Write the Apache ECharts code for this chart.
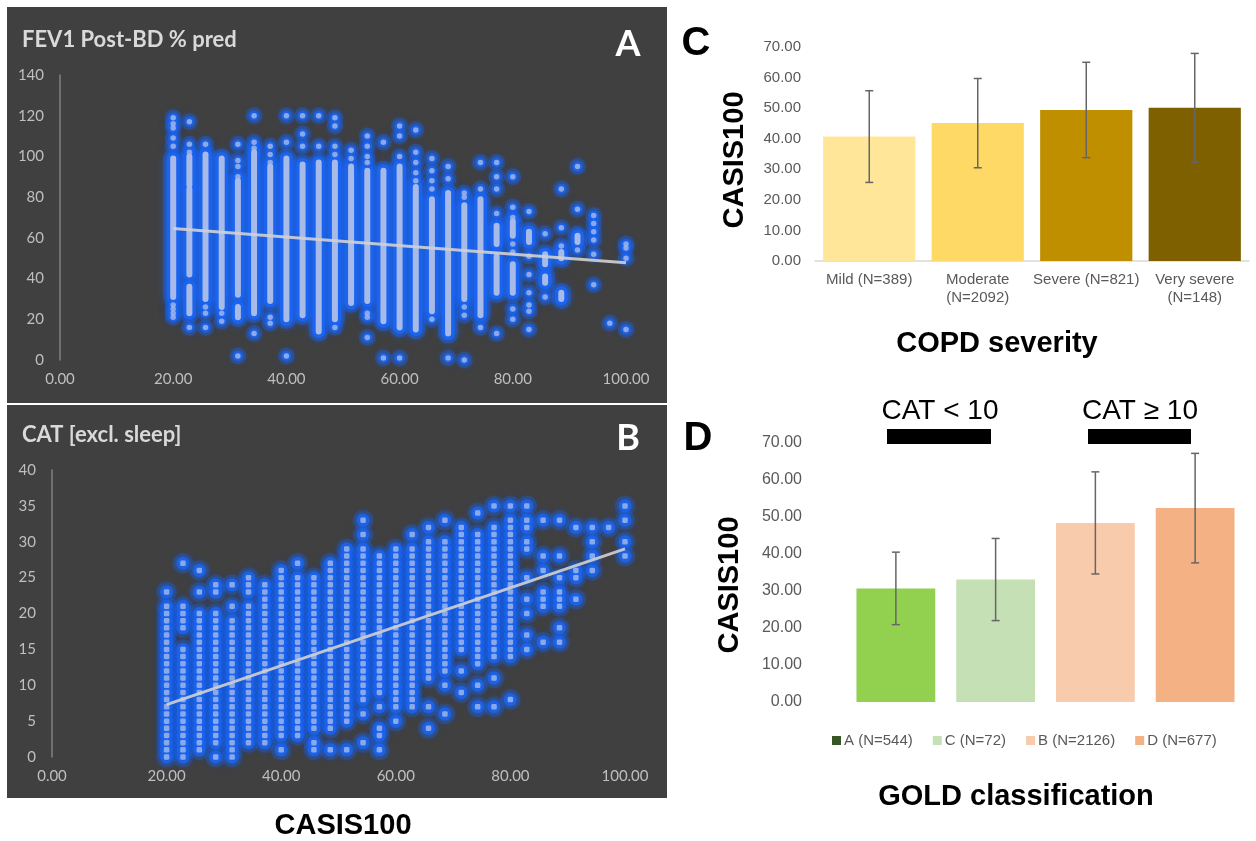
<!DOCTYPE html>
<html><head><meta charset="utf-8">
<script src="https://cdn.jsdelivr.net/npm/echarts@6/dist/echarts.min.js"></script>
<style>html,body{margin:0;padding:0;background:#fff}#c{width:1256px;height:841px}</style>
</head><body><div id="c"></div>
<script>
// ---------- DATA ----------
// CASIS100 score columns (x) shared by panels A and B
const casisX = [20, 22.86, 25.71, 28.57, 31.43, 34.29, 37.14, 40, 42.86, 45.71, 48.57, 51.43, 54.29, 57.14, 60,
  62.86, 65.71, 68.57, 71.43, 74.29, 77.14, 80, 82.86, 85.71, 88.57, 91.43, 94.29, 97.14, 100];

// Panel A: FEV1 post-BD % pred. Dense runs of overlapping points [low, high] per column
const fevRuns = [
  [[31,99]], [[86,100],[42,84],[23,36]], [[30,101]], [[26,99]], [[32,88],[21,26]], [[23,102]], [[29,95]],
  [[20,99]], [[22,96]], [[14,97]], [[20,97]], [[28,95]], [[29,93]], [[19,93]], [[16,95]],
  [[15,85]], [[24,79]], [[13,82]], [[30,76]], [[22,79]], [[57,66],[33,51]], [[61,68],[33,47]], [[58,63]],
  [[47,52],[38,41]], [[50,53],[30,33]], [[58,61]], [], [], []
];
// Panel A: isolated points per column
const fevPts = [
  [119,116,114,109,105,27,25,23,21], [117,106,102,16], [106,26,23,16], [23,19], [106,98,95,90,2],
  [120,107,104,13], [105,101,97,21,18], [120,107,2], [120,111,105], [120,105], [119,115,105,101,16],
  [103,99], [110,105,100,97,23,21,11], [107,1], [115,110,100,1], [113,102,97,92,88], [99,93,88,84,20],
  [95,89,1], [82,80,26,22,0], [97,84,16], [97,90,84,72,13], [90,75,70,57,53,25,20], [73,51,42,33,27,24,15],
  [62,31], [84,65,56], [95,74,54], [71,67,63,59,52,37], [18], [57,55,50,15]
];
const trendA = [[20, 64.6], [100, 47.8]];

// Panel B: CAT (excl. sleep) integer scores seen in each column ("a-b" = every integer a..b is drawn)
const catVals = [
  "0-21,23", "0-15,18-21,27", "1-20,23,26", "0,2-20,23,24", "0-19,21,24", "2-21,23-25", "2-24",
  "1,3-26", "3-25,27", "1,2,4-25", "1,4-27", "1,5-29", "2,6,8-29,31,33", "1,3,4,7,9-28", "5,7-29",
  "7-29,31", "4,7,11-30,32", "6,10,12-30,33", "9,12,15-32", "7,10,13-31,34", "7,11,14-32,35", "8,14-33,35",
  "15,17,20,22,25,29,30,32,33,35", "16,21,22,23,26,28,33", "16,18,21,22,23,25,28,33", "22,25,26,32",
  "26,28,30,32", "32", "28,30,33,35"
];
const trendB = [[20, 7.3], [100, 29.0]];

// Panel C: COPD severity
const sevCats = ['Mild (N=389)', 'Moderate\n(N=2092)', 'Severe (N=821)', 'Very severe\n(N=148)'];
const sevMean = [40.7, 45.1, 49.4, 50.1];
const sevSD = [15.0, 14.6, 15.6, 17.8];
const sevColors = ['#FFE699', '#FFD966', '#BF8F00', '#7F6000'];

// Panel D: GOLD classification
const goldCats = ['A', 'C', 'B', 'D'];
const goldLabels = ['A (N=544)', 'C (N=72)', 'B (N=2126)', 'D (N=677)'];
const goldMean = [30.7, 33.1, 48.4, 52.4];
const goldSD = [9.8, 11.1, 13.8, 14.8];
const goldColors = ['#92D050', '#C5E0B4', '#F8CBAD', '#F4B183'];
const goldLegendColors = ['#375623', '#C5E0B4', '#F8CBAD', '#F4B183'];

// ---------- BUILD ----------
const runData = [];
fevRuns.forEach((runs, i) => runs.forEach(r => runData.push([casisX[i], r[0], r[1]])));
const fevPtData = [];
fevPts.forEach((pts, i) => pts.forEach(v => fevPtData.push([casisX[i], v])));
const catData = [];
catVals.forEach((s, i) => s.split(',').forEach(tok => {
  const p = tok.split('-').map(Number);
  if (p.length === 1) catData.push([casisX[i], p[0]]);
  else for (let v = p[0]; v <= p[1]; v++) catData.push([casisX[i], v]);
}));

const GLOW = '#1a64f0';
const HALO = 'rgba(26,100,240,0.38)';
const CORE = '#a8bae8';
function runRender(layer) {
  return function (params, api) {
    const x = api.value(0), lo = api.value(1), hi = api.value(2);
    const t = api.coord([x, hi]), b = api.coord([x, lo]);
    const w = layer === 'core' ? 6 : layer === 'glow' ? 13 : 20;
    const style = layer === 'core' ? { fill: CORE }
      : layer === 'glow' ? { fill: GLOW, shadowBlur: 6, shadowColor: GLOW }
      : { fill: HALO, shadowBlur: 8, shadowColor: 'rgba(26,100,240,0.6)' };
    return {
      type: 'rect',
      shape: { x: t[0] - w / 2, y: t[1] - w / 2, width: w, height: b[1] - t[1] + w, r: w / 2 },
      style: style
    };
  };
}
function errRender(params, api) {
  const c = api.value(0);
  const lo = api.coord([c, api.value(1)]), hi = api.coord([c, api.value(2)]);
  const st = { stroke: '#666666', lineWidth: 1.5 };
  return { type: 'group', children: [
    { type: 'line', shape: { x1: lo[0], y1: lo[1], x2: hi[0], y2: hi[1] }, style: st },
    { type: 'line', shape: { x1: lo[0] - 4, y1: lo[1], x2: lo[0] + 4, y2: lo[1] }, style: st },
    { type: 'line', shape: { x1: hi[0] - 4, y1: hi[1], x2: hi[0] + 4, y2: hi[1] }, style: st }
  ]};
}

const darkLabel = { color: '#bfbfbf', fontSize: 15, fontFamily: 'Lato' };
const grayLabel = { color: '#595959', fontFamily: 'Liberation Sans' };
const fmt2 = v => v.toFixed(2);

const goldSeries = goldCats.map((g, i) => ({
  type: 'bar', name: goldLabels[i], xAxisIndex: 3, yAxisIndex: 3,
  barGap: '-100%', barCategoryGap: '21%',
  itemStyle: { color: goldLegendColors[i] },
  data: goldCats.map((_, j) => j === i ? { value: goldMean[i], itemStyle: { color: goldColors[i] } } : '-')
}));

const option = {
  animation: false,
  backgroundColor: '#ffffff',
  grid: [
    { left: 60, top: 75, width: 566, height: 285 },
    { left: 52, top: 470, width: 573, height: 287 },
    { left: 815, top: 47, width: 434, height: 214 },
    { left: 846, top: 443, width: 399, height: 259 }
  ],
  xAxis: [
    { gridIndex: 0, type: 'value', min: 0, max: 100, interval: 20, axisLine: { show: false }, axisTick: { show: false }, splitLine: { show: false }, axisLabel: Object.assign({ formatter: fmt2, margin: 12 }, darkLabel) },
    { gridIndex: 1, type: 'value', min: 0, max: 100, interval: 20, axisLine: { show: false }, axisTick: { show: false }, splitLine: { show: false }, axisLabel: Object.assign({ formatter: fmt2, margin: 12 }, darkLabel) },
    { gridIndex: 2, type: 'category', data: sevCats, axisLine: { lineStyle: { color: '#d9d9d9', width: 1.5 } }, axisTick: { show: false }, axisLabel: Object.assign({ interval: 0, fontSize: 15, lineHeight: 18, margin: 10 }, grayLabel) },
    { gridIndex: 3, type: 'category', data: goldCats, axisLine: { show: false }, axisTick: { show: false }, axisLabel: { show: false } }
  ],
  yAxis: [
    { gridIndex: 0, type: 'value', min: 0, max: 140, interval: 20, axisLine: { show: true, lineStyle: { color: '#808080', width: 1.5 } }, axisTick: { show: false }, splitLine: { show: false }, axisLabel: Object.assign({ margin: 16 }, darkLabel) },
    { gridIndex: 1, type: 'value', min: 0, max: 40, interval: 5, axisLine: { show: true, lineStyle: { color: '#808080', width: 1.5 } }, axisTick: { show: false }, splitLine: { show: false }, axisLabel: Object.assign({ margin: 16 }, darkLabel) },
    { gridIndex: 2, type: 'value', min: 0, max: 70, interval: 10, axisLine: { show: false }, axisTick: { show: false }, splitLine: { show: false }, axisLabel: Object.assign({ formatter: fmt2, fontSize: 15, margin: 14 }, grayLabel) },
    { gridIndex: 3, type: 'value', min: 0, max: 70, interval: 10, axisLine: { show: false }, axisTick: { show: false }, splitLine: { show: false }, axisLabel: Object.assign({ formatter: fmt2, fontSize: 16, margin: 44 }, grayLabel) }
  ],
  legend: {
    data: goldLabels, left: 827, top: 728, itemWidth: 9, itemHeight: 9, itemGap: 20, icon: 'rect',
    selectedMode: false, textStyle: { color: '#595959', fontSize: 15, fontFamily: 'Liberation Sans', padding: [0, 0, 0, -2] }
  },
  series: [
    { type: 'custom', xAxisIndex: 0, yAxisIndex: 0, renderItem: runRender('halo'), data: runData, z: 2 },
    { type: 'scatter', xAxisIndex: 0, yAxisIndex: 0, symbolSize: 17, data: fevPtData, itemStyle: { color: HALO, shadowBlur: 6, shadowColor: 'rgba(26,100,240,0.5)' }, z: 2 },
    { type: 'custom', xAxisIndex: 0, yAxisIndex: 0, renderItem: runRender('glow'), data: runData, z: 3 },
    { type: 'scatter', xAxisIndex: 0, yAxisIndex: 0, symbolSize: 10, data: fevPtData, itemStyle: { color: GLOW, shadowBlur: 5, shadowColor: GLOW }, z: 3 },
    { type: 'custom', xAxisIndex: 0, yAxisIndex: 0, renderItem: runRender('core'), data: runData, z: 4 },
    { type: 'scatter', xAxisIndex: 0, yAxisIndex: 0, symbolSize: 5.5, data: fevPtData, itemStyle: { color: CORE }, z: 4 },
    { type: 'line', xAxisIndex: 0, yAxisIndex: 0, data: trendA, symbol: 'none', lineStyle: { color: '#d2d2d2', width: 3, opacity: 0.9 }, z: 5 },
    { type: 'scatter', xAxisIndex: 1, yAxisIndex: 1, symbolSize: 21, data: catData, itemStyle: { color: 'rgba(26,100,240,0.3)', shadowBlur: 6, shadowColor: 'rgba(26,100,240,0.5)' }, z: 2 },
    { type: 'scatter', xAxisIndex: 1, yAxisIndex: 1, symbolSize: 13, data: catData, itemStyle: { color: GLOW, shadowBlur: 5, shadowColor: GLOW }, z: 3 },
    { type: 'scatter', xAxisIndex: 1, yAxisIndex: 1, symbol: 'roundRect', symbolSize: 5.5, data: catData, itemStyle: { color: CORE }, z: 4 },
    { type: 'line', xAxisIndex: 1, yAxisIndex: 1, data: trendB, symbol: 'none', lineStyle: { color: '#d2d2d2', width: 3, opacity: 0.9 }, z: 5 },
    { type: 'bar', xAxisIndex: 2, yAxisIndex: 2, barCategoryGap: '15%', data: sevMean.map((v, i) => ({ value: v, itemStyle: { color: sevColors[i] } })) },
    { type: 'custom', xAxisIndex: 2, yAxisIndex: 2, renderItem: errRender, data: sevMean.map((m, i) => [i, m - sevSD[i], m + sevSD[i]]), z: 5 },
    ...goldSeries,
    { type: 'custom', xAxisIndex: 3, yAxisIndex: 3, renderItem: errRender, data: goldMean.map((m, i) => [i, m - goldSD[i], m + goldSD[i]]), z: 5 }
  ],
  graphic: [
    { type: 'rect', z: 0, shape: { x: 7, y: 7, width: 660, height: 396 }, style: { fill: '#404040' } },
    { type: 'rect', z: 0, shape: { x: 7, y: 405, width: 660, height: 393 }, style: { fill: '#404040' } },
    { type: 'text', z: 100, x: 22, y: 40, style: { text: 'FEV1 Post-BD % pred', fill: '#d9d9d9', font: 'bold 22px Lato', verticalAlign: 'middle' } },
    { type: 'text', z: 100, x: 22, y: 435, style: { text: 'CAT [excl. sleep]', fill: '#d9d9d9', font: 'bold 22px Lato', verticalAlign: 'middle' } },
    { type: 'text', z: 100, x: 628, y: 44, style: { text: 'A', fill: '#ffffff', font: 'bold 36px Lato', align: 'center', verticalAlign: 'middle' } },
    { type: 'text', z: 100, x: 628, y: 438, style: { text: 'B', fill: '#ffffff', font: 'bold 36px Lato', align: 'center', verticalAlign: 'middle' } },
    { type: 'text', z: 100, x: 343, y: 826, style: { text: 'CASIS100', fill: '#000', font: 'bold 29px "Liberation Sans"', align: 'center', verticalAlign: 'middle' } },
    { type: 'text', z: 100, x: 696, y: 44, style: { text: 'C', fill: '#000', font: 'bold 40px "Liberation Sans"', align: 'center', verticalAlign: 'middle' } },
    { type: 'text', z: 100, x: 735, y: 160, rotation: Math.PI / 2, style: { text: 'CASIS100', fill: '#000', font: 'bold 29px "Liberation Sans"', align: 'center', verticalAlign: 'middle' } },
    { type: 'text', z: 100, x: 997, y: 344, style: { text: 'COPD severity', fill: '#000', font: 'bold 29px "Liberation Sans"', align: 'center', verticalAlign: 'middle' } },
    { type: 'text', z: 100, x: 698, y: 439, style: { text: 'D', fill: '#000', font: 'bold 40px "Liberation Sans"', align: 'center', verticalAlign: 'middle' } },
    { type: 'text', z: 100, x: 940, y: 411, style: { text: 'CAT < 10', fill: '#000', font: '28px "Liberation Sans"', align: 'center', verticalAlign: 'middle' } },
    { type: 'text', z: 100, x: 1140, y: 411, style: { text: 'CAT ≥ 10', fill: '#000', font: '28px "Liberation Sans"', align: 'center', verticalAlign: 'middle' } },
    { type: 'rect', z: 100, shape: { x: 887, y: 429, width: 104, height: 15 }, style: { fill: '#000' } },
    { type: 'rect', z: 100, shape: { x: 1088, y: 429, width: 103, height: 15 }, style: { fill: '#000' } },
    { type: 'text', z: 100, x: 730, y: 585, rotation: Math.PI / 2, style: { text: 'CASIS100', fill: '#000', font: 'bold 29px "Liberation Sans"', align: 'center', verticalAlign: 'middle' } },
    { type: 'text', z: 100, x: 1016, y: 797, style: { text: 'GOLD classification', fill: '#000', font: 'bold 29px "Liberation Sans"', align: 'center', verticalAlign: 'middle' } }
  ]
};
const chart = echarts.init(document.getElementById('c'), null, { renderer: 'canvas' });
chart.setOption(option);
</script></body></html>
